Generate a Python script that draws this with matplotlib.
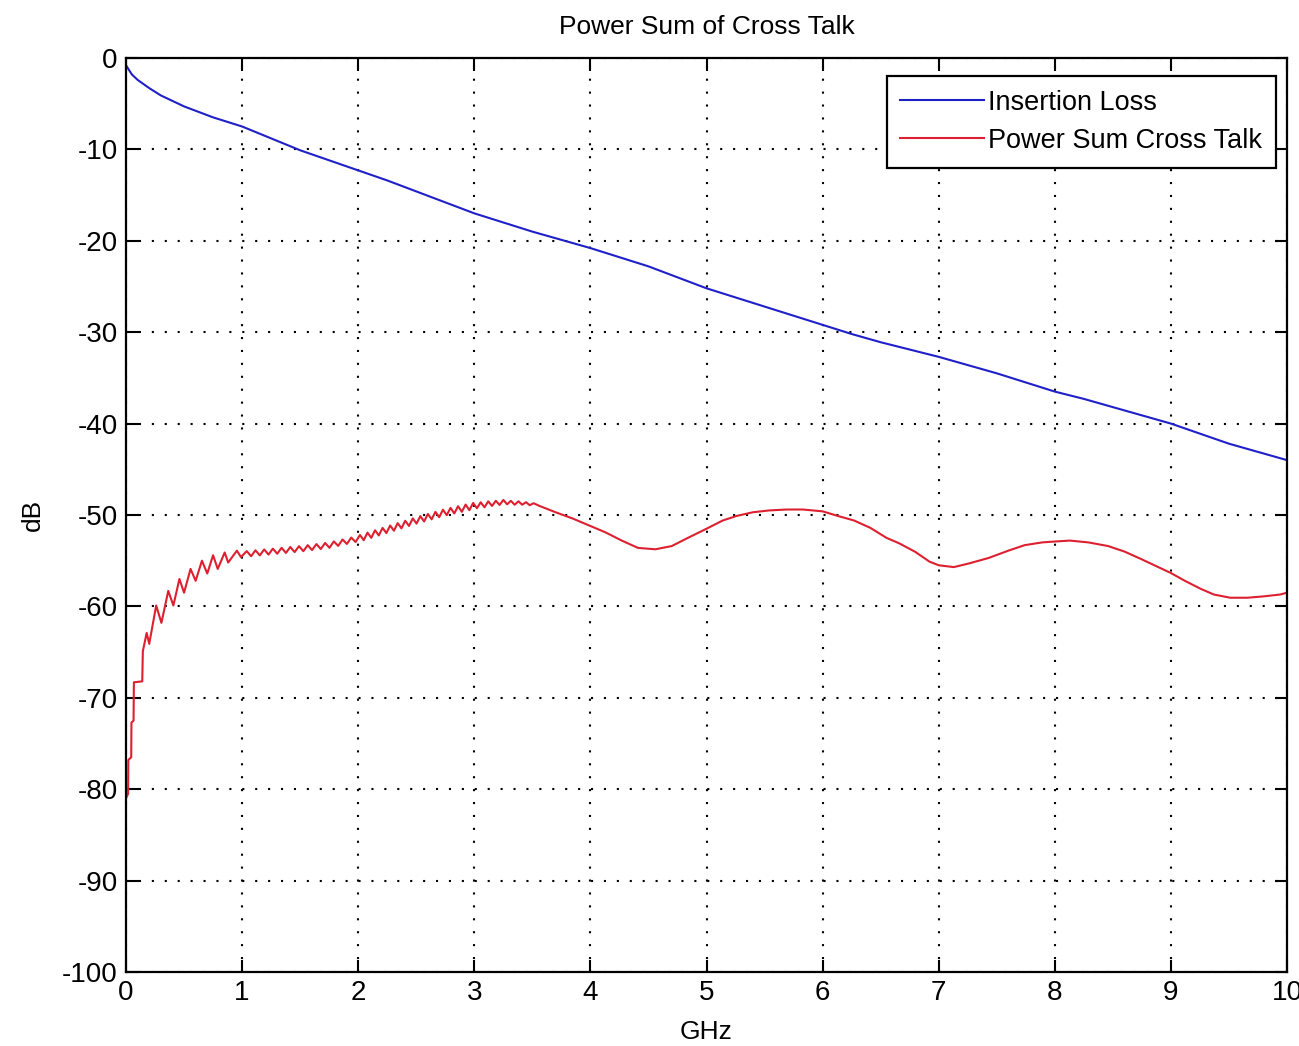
import matplotlib
matplotlib.use("Agg")
import matplotlib.pyplot as plt

plt.rcParams['font.family'] = ['Liberation Sans', 'DejaVu Sans']
plt.rcParams['axes.unicode_minus'] = False

# insertion loss (dB) vs frequency (GHz)
il_f = [0.0, 0.05, 0.1, 0.2, 0.3, 0.5, 0.75, 1.0, 1.25, 1.5, 1.75, 2.0, 2.25, 2.5,
        2.75, 3.0, 3.25, 3.5, 3.75, 4.0, 4.25, 4.5, 4.75, 5.0, 5.25, 5.5, 5.75, 6.0,
        6.25, 6.5, 6.75, 7.0, 7.25, 7.5, 7.75, 8.0, 8.25, 8.5, 8.75, 9.0, 9.25, 9.5,
        9.75, 10.0]
il_db = [-0.8, -1.8, -2.4, -3.3, -4.1, -5.3, -6.5, -7.5, -8.8, -10.1, -11.2, -12.3,
         -13.4, -14.6, -15.8, -17.0, -18.0, -19.0, -19.9, -20.8, -21.8, -22.8, -24.0,
         -25.2, -26.2, -27.2, -28.2, -29.2, -30.2, -31.1, -31.9, -32.7, -33.6, -34.5,
         -35.5, -36.5, -37.3, -38.2, -39.1, -40.0, -41.1, -42.2, -43.1, -44.0]

# power sum crosstalk (dB) vs frequency (GHz)
xt_f = [0.0, 0.018, 0.02, 0.045, 0.047, 0.065, 0.068, 0.14, 0.145,
        0.178, 0.2, 0.26, 0.305, 0.364, 0.408, 0.46, 0.5, 0.556, 0.6, 0.654, 0.7,
        0.75, 0.79, 0.85, 0.88, 0.955, 0.99,
        1.04, 1.0775, 1.115, 1.1525, 1.19, 1.2275, 1.265, 1.3025, 1.34, 1.3775,
        1.415, 1.4525, 1.49, 1.5275, 1.565, 1.6025, 1.64, 1.6775, 1.715, 1.7525,
        1.79, 1.8275, 1.865, 1.9025, 1.94, 1.9775,
        2.015, 2.0475, 2.08, 2.1125, 2.145, 2.1775, 2.21, 2.2425, 2.275, 2.3075,
        2.34, 2.3725, 2.405, 2.4375, 2.47, 2.5025, 2.535, 2.5675, 2.6, 2.6325,
        2.665, 2.6975, 2.73, 2.7625, 2.795, 2.8275, 2.86, 2.8925, 2.925, 2.9575,
        2.99, 3.0225, 3.055, 3.0875, 3.12, 3.1525, 3.185, 3.2175, 3.25, 3.2825,
        3.315, 3.3475, 3.38, 3.4125, 3.445, 3.4775, 3.51,
        3.56, 3.7, 3.85, 4.0, 4.13, 4.27, 4.41, 4.56, 4.7, 4.84, 5.0, 5.14, 5.26,
        5.4, 5.54, 5.69, 5.83, 6.0, 6.13, 6.27, 6.41, 6.55, 6.66, 6.8, 6.92, 7.0,
        7.13, 7.26, 7.43, 7.6, 7.74, 7.89, 8.0, 8.13, 8.29, 8.46, 8.6, 8.74, 8.89,
        9.0, 9.12, 9.26, 9.37, 9.51, 9.66, 9.8, 9.94, 10.0]
xt_db = [-81.0, -80.5, -76.8, -76.5, -72.7, -72.5, -68.3, -68.2, -64.9,
         -62.9, -64.1, -59.9, -61.8, -58.3, -59.9, -57.0, -58.5, -55.9, -57.2,
         -55.0, -56.4, -54.4, -55.9, -54.1, -55.2, -53.9, -54.6,
         -53.95, -54.51, -53.86, -54.42, -53.77, -54.33, -53.68, -54.24, -53.59,
         -54.15, -53.50, -54.06, -53.41, -53.96, -53.30, -53.84, -53.18, -53.72,
         -53.06, -53.59, -52.89, -53.38, -52.68, -53.17, -52.47, -52.96,
         -52.19, -52.76, -51.93, -52.50, -51.67, -52.24, -51.41, -51.98, -51.15,
         -51.72, -50.89, -51.46, -50.63, -51.20, -50.37, -50.94, -50.12, -50.71,
         -49.89, -50.47, -49.66, -50.24, -49.42, -50.02, -49.22, -49.83, -49.04,
         -49.65, -48.86, -49.47, -48.68, -49.26, -48.61, -49.16, -48.51, -49.01,
         -48.45, -48.90, -48.35, -48.83, -48.45, -48.88, -48.50, -48.88, -48.60,
         -48.93, -48.71,
         -49.0, -49.7, -50.4, -51.2, -51.9, -52.8, -53.6, -53.75, -53.4, -52.5,
         -51.5, -50.6, -50.1, -49.7, -49.5, -49.4, -49.4, -49.6, -50.1, -50.6,
         -51.4, -52.5, -53.1, -54.05, -55.1, -55.5, -55.7, -55.3, -54.7, -53.9,
         -53.3, -53.0, -52.9, -52.8, -53.0, -53.4, -54.0, -54.8, -55.7, -56.35,
         -57.2, -58.1, -58.7, -59.05, -59.05, -58.9, -58.7, -58.5]

xticks = list(range(0, 11))
yticks = list(range(-100, 1, 10))

fig = plt.figure(figsize=(12.99, 10.46), dpi=100)
ax = fig.add_axes([0.097, 0.0707, 0.8938, 0.8739])

ax.plot(il_f, il_db, color='#2020c8', lw=1.5, label='Insertion Loss')
ax.plot(xt_f, xt_db, color='#dd2030', lw=1.5, label='Power Sum Cross Talk')

ax.set_xlim(0, 10)
ax.set_ylim(-100, 0)
ax.set_xticks(xticks)
ax.set_yticks(yticks)
ax.grid(True, color='black', linestyle=(0, (1, 5.2)), linewidth=1.5)
ax.tick_params(direction='in', length=9, width=1.5, top=True, right=True,
               labelsize=20, pad=6)
for s in ax.spines.values():
    s.set_linewidth(1.6)

ax.set_title('Power Sum of Cross Talk', fontsize=19, pad=17)
ax.set_xlabel('GHz', fontsize=19, labelpad=10)
ax.set_ylabel('dB', fontsize=19, labelpad=12)

leg = ax.legend(loc='upper right', bbox_to_anchor=(0.9905, 0.980), borderaxespad=0,
                fontsize=19.5, fancybox=False, edgecolor='black', framealpha=1,
                handlelength=3.1, handletextpad=0.15, labelspacing=0.45,
                borderpad=0.5)
leg.get_frame().set_linewidth(1.6)

fig.savefig('out.png', dpi=100)
